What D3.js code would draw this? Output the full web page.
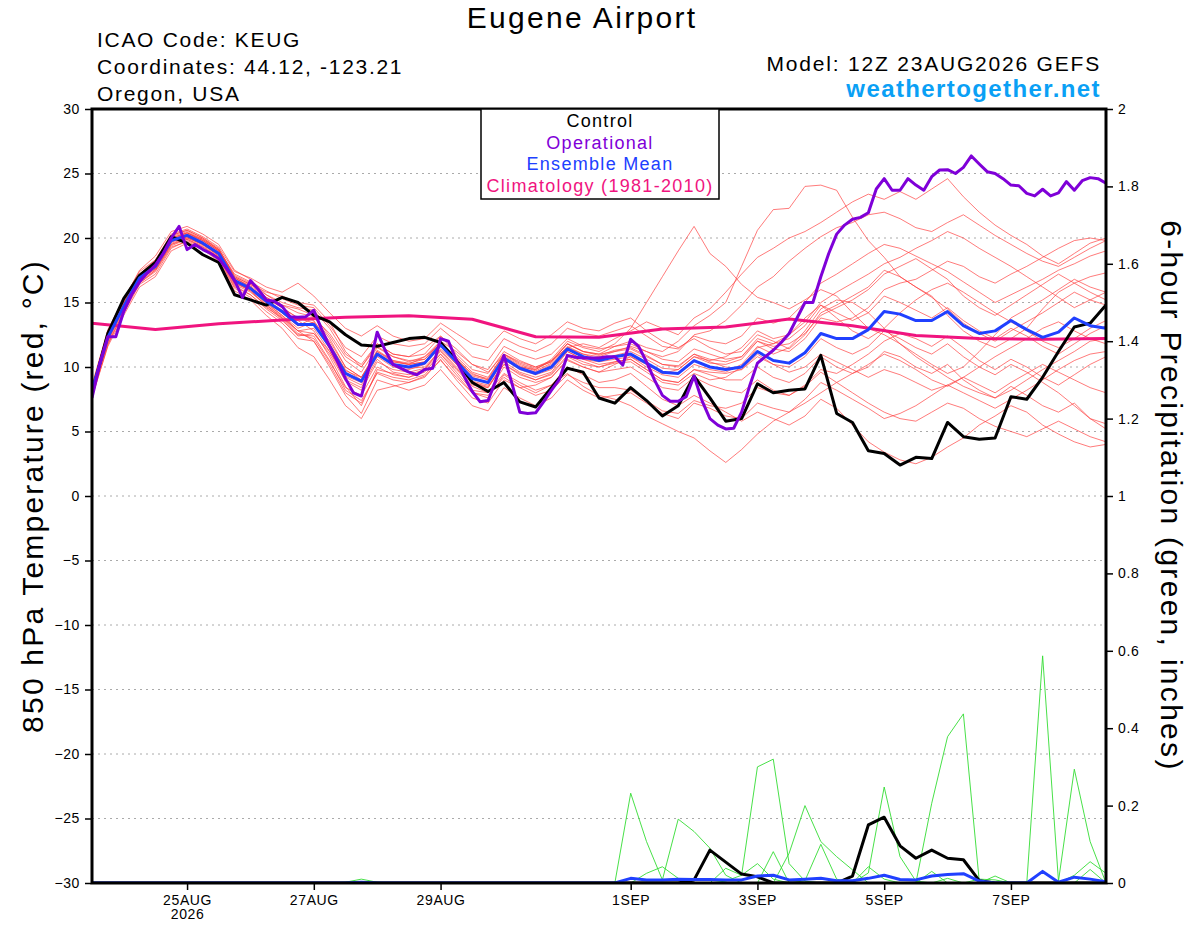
<!DOCTYPE html>
<html><head><meta charset="utf-8">
<script src="https://cdn.jsdelivr.net/npm/d3@7"></script>
<style>
body{margin:0;background:#fff;}
svg{display:block;font-family:"Liberation Sans",Arial,Helvetica,sans-serif;}
</style></head><body>
<svg id="chart" width="1200" height="927"></svg>
<script>
// ---------------- DATA ----------------
// x-axis tick positions (hours after 12Z 23AUG2026) and labels
const xTickHours  = [36, 84, 132, 204, 252, 300, 348];
const xTickLabels = ["25AUG", "27AUG", "29AUG", "1SEP", "3SEP", "5SEP", "7SEP"];
const tempTicks = [-30,-25,-20,-15,-10,-5,0,5,10,15,20,25,30];
const precipTicks = [0,0.2,0.4,0.6,0.8,1,1.2,1.4,1.6,1.8,2];
const precipTickLabels = ["0","0.2","0.4","0.6","0.8","1","1.2","1.4","1.6","1.8","2"];

// 6-hourly control (GEFS c00) 850 hPa temperature, degC
const controlTemp = [
 8.0,12.6,15.3,17.1,18.1,20.1,19.6,18.7,18.1,15.6,15.2,14.8,15.4,
 15.0,14.0,13.5,12.5,11.7,11.6,11.9,12.2,12.3,11.9,10.5,8.8,8.1,
 8.8,7.3,6.9,8.4,9.9,9.6,7.6,7.2,8.4,7.4,6.2,7.0,9.3,
 7.6,5.8,6.0,8.7,8.0,8.2,8.3,10.9,6.4,5.7,3.5,3.3,2.4,
 3.0,2.9,5.7,4.6,4.4,4.5,7.7,7.5,9.2,11.2,13.1,13.4,14.8];

// 6-hourly ensemble mean
const meanTemp = [
 8.2,12.3,14.7,16.9,17.8,19.8,20.2,19.6,18.8,16.7,16.1,15.1,14.3,
 13.3,13.3,11.6,9.5,8.9,11.0,10.2,10.0,10.3,11.7,10.4,9.1,8.8,
 10.7,9.9,9.5,10.0,11.4,10.8,10.5,10.8,11.0,10.3,9.6,9.5,10.5,
 10.0,9.8,10.0,11.2,10.5,10.3,11.1,12.6,12.2,12.2,12.9,14.3,14.1,
 13.6,13.6,14.3,13.2,12.6,12.8,13.6,12.9,12.3,12.7,13.8,13.2,13.0];

// 3-hourly operational GFS
const operTemp = [
 7.6,10.3,12.35,12.35,14.3,15.6,16.6,17.3,17.9,18.8,20.0,20.9,19.1,19.5,19.1,18.8,
 18.4,17.6,16.7,15.4,16.7,16.0,15.2,15.1,14.7,13.9,13.85,13.9,14.4,12.9,11.6,10.4,
 9.1,8.0,7.75,10.0,12.7,11.3,10.2,9.9,9.6,9.4,9.8,9.9,12.2,12.0,
 10.5,9.25,8.1,7.3,7.4,9.0,10.9,8.75,6.5,6.4,6.45,7.3,8.2,9.05,10.9,10.75,
 10.7,10.7,10.7,10.8,10.8,10.15,12.15,11.6,10.4,9.0,7.8,7.35,7.35,7.7,9.3,7.4,
 6.0,5.5,5.2,5.25,6.5,8.5,10.3,10.8,11.3,11.9,12.6,13.8,
 15.0,15.0,17.0,18.8,20.3,21.0,21.45,21.6,21.96,23.8,24.6,23.7,23.7,24.6,24.1,23.7,
 24.75,25.27,25.3,25.0,25.48,26.36,25.74,25.14,25.0,24.6,24.1,24.05,23.46,23.26,23.78,23.26,
 23.5,24.37,23.7,24.44,24.68,24.6,24.24];

// daily climatology (1981-2010)
const climTemp = [13.4,12.9,13.35,13.65,13.85,13.98,13.7,12.35,12.3,12.95,13.1,13.72,13.2,12.45,12.2,12.15,12.2];

// 6-hourly ensemble members
const member01 = [8.0,12.0,14.9,17.2,18.3,20.2,20.6,20.0,19.2,17.0,16.4,15.8,15.5,
 15.0,14.8,13.5,11.2,10.0,11.8,11.0,10.8,11.5,12.4,11.0,9.8,9.5,
 11.2,10.5,10.0,10.4,11.8,11.2,11.0,11.6,12.0,11.5,11.2,12.0,13.2,
 14.0,15.0,17.8,20.6,22.2,22.3,24.0,24.1,23.7,21.6,19.8,18.5,17.0,
 16.2,15.5,14.0,12.8,12.0,11.5,12.2,13.0,14.5,15.8,16.5,17.0,17.3];
const member02 = [8.5,12.8,15.2,17.5,18.6,20.5,20.9,20.3,19.5,17.5,16.8,15.6,14.8,
 14.5,14.0,12.4,10.5,9.6,11.5,10.8,10.4,10.8,12.0,11.2,10.2,9.6,
 11.0,10.2,9.8,10.6,12.0,11.5,11.2,11.8,13.0,15.0,17.0,19.0,20.9,
 18.8,17.8,16.4,15.4,15.0,14.5,15.2,16.0,15.5,14.2,13.0,12.5,11.8,
 11.0,10.2,9.5,10.0,11.2,12.5,13.8,14.5,15.2,16.0,16.8,16.2,15.8];
const member03 = [8.3,12.5,14.5,16.5,17.5,19.5,20.0,19.5,18.6,16.5,16.0,15.0,14.0,
 13.0,13.5,12.0,10.0,9.2,11.2,10.5,10.2,10.8,11.8,10.5,9.5,9.0,
 10.5,10.0,9.8,10.5,11.5,11.8,11.5,12.2,12.8,13.5,13.0,12.5,13.8,
 14.5,15.8,17.2,18.5,19.2,20.0,20.5,21.2,22.0,22.8,23.4,23.0,23.6,
 23.0,23.8,24.6,23.2,22.0,21.0,20.2,19.5,18.6,18.0,18.8,19.6,20.0];
const member04 = [7.8,11.8,14.2,16.4,17.2,19.2,19.8,19.3,18.4,16.2,15.6,14.5,13.6,
 12.5,12.4,10.5,8.2,7.4,9.5,9.0,8.8,9.3,10.5,9.2,8.0,7.6,
 9.4,8.6,8.0,8.6,10.0,9.4,8.8,9.0,9.5,8.5,7.5,7.0,7.8,
 7.2,6.5,5.8,6.5,6.0,5.5,6.2,7.5,6.8,5.5,4.2,3.4,2.8,
 2.5,3.0,3.8,4.5,5.5,6.2,7.0,6.5,5.5,4.8,4.2,3.8,4.0];
const member05 = [8.1,12.2,14.8,17.0,18.0,20.0,20.4,19.8,19.0,16.9,16.2,15.2,14.4,
 13.6,12.8,10.8,8.5,7.0,9.8,9.5,9.2,9.8,11.0,9.8,8.5,8.0,
 9.5,8.8,8.2,8.6,9.5,8.5,7.8,7.5,7.0,6.2,5.6,5.0,4.5,
 3.5,2.6,3.6,4.8,5.8,6.5,7.2,8.0,8.8,9.5,10.2,11.0,10.5,
 9.8,9.0,8.5,9.2,10.0,10.8,11.5,12.2,13.0,13.5,12.8,12.2,11.8];
const member06 = [8.4,12.6,15.0,17.1,18.0,20.1,20.5,19.9,19.1,17.1,16.5,15.4,14.6,
 13.8,13.6,11.8,9.8,9.0,11.2,10.4,10.2,10.4,11.9,10.6,9.3,9.0,
 10.9,10.1,9.7,10.3,11.6,11.0,10.6,10.9,11.2,10.6,9.9,9.8,10.8,
 10.3,10.2,10.6,12.0,11.4,11.2,12.2,13.8,13.5,13.8,14.6,16.0,16.5,
 16.8,17.5,18.2,17.8,17.0,16.5,17.2,17.8,18.5,19.2,19.8,20.0,19.8];
const member07 = [7.9,11.9,14.4,16.6,17.5,19.4,19.9,19.3,18.5,16.4,15.8,14.8,13.9,
 12.8,12.6,11.0,8.9,8.2,10.4,9.8,9.6,9.9,11.2,9.9,8.6,8.4,
 10.2,9.5,9.0,9.5,10.9,10.4,10.0,10.4,10.6,9.8,9.0,8.8,9.8,
 9.4,9.0,9.0,10.0,9.2,8.8,9.5,10.8,10.0,9.5,10.0,11.2,10.8,
 10.0,9.5,10.2,9.0,8.2,7.6,8.5,7.8,7.0,6.5,7.2,6.0,5.6];
const member08 = [8.6,12.9,15.3,17.4,18.3,20.3,20.7,20.1,19.3,17.4,16.9,16.2,15.8,
 16.5,15.5,14.2,13.0,12.4,13.2,12.4,12.0,12.2,13.4,12.6,11.8,11.5,
 12.8,12.2,11.8,12.5,13.5,13.0,12.8,13.4,13.8,12.8,12.0,11.5,12.2,
 11.5,11.0,11.2,12.5,12.0,11.4,12.5,14.2,14.8,15.5,16.2,17.5,17.0,
 16.2,15.4,14.5,13.4,12.6,12.0,12.8,13.5,14.2,15.0,15.8,15.2,14.8];
const member09 = [7.7,11.6,14.0,16.2,17.0,19.0,19.6,19.1,18.2,15.9,15.2,14.0,13.0,
 11.5,10.8,9.0,7.0,6.0,8.2,8.5,8.8,9.2,10.6,9.0,7.6,7.2,
 9.0,8.4,8.6,9.2,10.5,10.0,9.6,10.2,10.8,10.2,9.5,9.8,10.8,
 10.5,10.8,11.5,12.8,12.2,12.5,13.5,15.0,15.8,16.5,17.2,18.0,18.5,
 19.2,19.8,20.5,20.0,19.2,18.5,17.8,17.0,16.2,15.4,14.6,15.2,15.8];
const member10 = [8.2,12.4,14.6,16.8,17.9,19.9,20.3,19.7,18.9,16.8,16.0,14.9,14.0,
 12.8,13.0,11.2,9.0,8.4,10.6,9.6,9.4,9.8,11.4,10.2,8.8,8.4,
 10.4,9.6,9.2,9.6,11.2,10.6,10.4,10.6,10.8,10.0,9.4,9.2,10.2,
 9.8,9.6,10.2,11.6,11.0,11.5,12.8,14.5,15.2,15.0,14.2,13.0,11.8,
 10.8,10.0,9.2,8.5,8.0,7.6,8.2,9.0,9.8,10.5,11.2,12.0,12.2];
const member11 = [8.0,12.1,14.7,17.0,17.9,19.8,20.1,19.5,18.7,16.6,16.0,15.0,14.2,
 13.2,13.8,12.6,10.8,10.0,11.6,10.8,10.5,10.6,11.8,10.8,9.6,9.2,
 11.0,10.4,10.0,10.5,11.8,11.2,11.0,11.2,11.4,10.8,10.2,10.0,11.0,
 10.4,10.0,9.8,10.8,10.2,9.6,10.0,11.0,10.4,9.8,9.2,9.8,9.4,
 8.8,8.2,8.6,8.0,7.4,6.8,7.5,8.2,9.0,9.8,10.5,11.0,11.2];
const member12 = [8.3,12.3,14.8,16.9,17.7,19.7,20.1,19.6,18.8,16.7,16.2,15.3,14.6,
 13.8,13.4,11.4,9.2,8.6,10.8,10.0,9.8,10.2,11.6,10.4,9.2,8.8,
 10.8,10.0,9.6,10.2,11.5,11.0,10.8,11.2,11.6,11.2,10.8,11.2,12.5,
 12.8,13.6,14.8,16.2,17.0,18.2,19.2,20.1,20.8,21.2,21.8,22.0,21.5,
 20.8,20.5,21.2,21.8,21.0,20.2,19.5,18.8,18.2,17.8,18.5,19.2,19.8];
const member13 = [8.1,12.2,14.6,16.8,17.6,19.6,20.0,19.5,18.6,16.5,15.9,14.8,13.8,
 12.6,12.2,10.4,8.4,7.8,10.0,9.4,9.2,9.6,11.0,9.6,8.2,8.0,
 10.0,9.2,8.8,9.2,10.6,10.0,9.6,9.8,10.0,9.2,8.4,8.2,9.2,
 8.6,8.2,8.0,9.0,8.2,7.8,8.5,9.6,8.8,8.0,7.2,6.5,6.0,
 5.8,6.5,7.2,6.8,6.0,5.4,5.0,4.6,5.2,5.8,5.2,4.6,4.2];
const member14 = [8.4,12.5,14.9,17.0,17.8,19.8,20.3,19.8,19.0,16.9,16.3,15.4,14.8,
 14.2,13.9,12.2,10.0,9.2,11.0,10.2,9.9,10.0,11.3,10.0,8.8,8.5,
 10.2,9.4,9.0,9.4,10.8,10.2,10.0,10.3,10.4,9.6,8.8,8.6,9.5,
 9.0,9.2,10.0,11.5,11.8,12.5,13.8,14.8,13.8,12.8,12.2,13.0,14.2,
 15.2,16.0,16.5,15.8,15.0,14.2,13.5,12.8,12.0,11.5,12.2,13.0,13.6];
const member15 = [7.6,11.7,14.3,16.5,17.4,19.3,19.7,19.2,18.3,16.1,15.4,14.3,13.4,
 12.2,12.0,10.2,8.0,7.2,9.6,9.2,9.0,9.4,10.8,9.4,8.0,7.8,
 9.2,8.4,7.8,8.2,9.4,8.8,8.4,8.4,8.2,7.4,6.6,6.4,7.4,
 7.0,6.8,7.2,8.4,8.0,7.8,8.6,9.8,9.5,10.2,11.0,12.0,12.6,
 12.2,11.6,12.4,11.5,10.5,9.8,10.6,10.0,9.2,8.6,9.4,10.2,10.8];
const member16 = [8.5,12.7,15.0,17.2,18.1,20.0,20.4,19.9,19.1,17.0,16.4,15.6,15.0,
 14.6,14.4,13.0,11.0,10.2,11.8,11.0,10.8,11.0,12.4,11.4,10.2,9.8,
 11.6,11.0,10.6,11.0,12.2,11.6,11.4,11.6,11.8,11.2,10.6,10.4,11.4,
 11.0,10.6,10.8,12.0,11.6,11.8,12.6,14.0,14.6,15.2,16.0,17.2,17.8,
 18.4,17.6,16.8,15.5,14.6,14.0,14.8,15.6,16.4,17.2,16.5,15.8,15.2];
const member17 = [7.9,12.0,14.5,16.7,17.6,19.5,19.9,19.4,18.5,16.3,15.6,14.6,13.8,
 12.8,12.0,10.0,7.8,6.4,9.0,8.6,8.2,8.6,9.8,8.4,7.0,6.6,
 8.4,7.6,7.0,7.6,9.0,8.2,7.6,7.8,8.0,7.2,6.4,6.0,7.2,
 6.8,6.2,6.0,7.2,6.8,6.5,7.5,8.8,8.2,7.5,6.8,6.0,6.4,
 7.0,7.8,8.6,9.2,8.6,8.0,8.8,9.5,10.2,9.6,9.0,8.4,8.0];
const member18 = [8.2,12.4,14.8,17.1,18.1,20.2,20.6,20.0,19.1,17.2,16.6,15.9,15.3,
 14.8,14.6,13.2,11.5,10.8,12.4,11.8,11.6,11.8,13.0,12.0,10.8,10.5,
 12.2,11.6,11.2,11.8,13.0,12.6,12.4,12.8,13.2,12.4,11.6,11.4,12.4,
 12.0,11.8,12.4,13.8,13.4,13.8,15.0,16.5,17.2,18.0,18.8,19.5,19.2,
 18.6,18.0,17.4,16.6,15.8,15.0,15.6,16.2,16.8,17.5,18.0,18.6,19.0];
const member19 = [8.0,12.2,14.6,16.8,17.7,19.7,20.1,19.5,18.7,16.6,15.9,14.7,13.7,
 12.4,12.6,11.2,9.3,8.8,11.0,10.4,10.2,10.4,11.6,10.2,8.9,8.6,
 10.6,9.8,9.4,9.8,11.2,10.6,10.2,10.4,10.6,9.8,9.0,8.8,9.8,
 9.6,9.5,9.8,11.0,10.2,10.0,10.8,12.2,11.5,11.0,11.6,12.8,12.2,
 11.5,11.0,11.8,10.8,10.0,9.4,10.2,9.6,8.8,8.0,7.0,6.0,5.2];
const member20 = [8.3,12.5,14.9,17.0,17.9,19.9,20.4,19.8,19.0,16.9,16.2,15.1,14.2,
 13.2,13.4,11.8,9.7,9.2,11.3,10.5,10.3,10.6,12.0,10.7,9.4,9.1,
 11.0,10.3,9.9,10.4,11.8,11.2,10.9,11.3,11.5,10.9,10.2,10.1,11.0,
 10.6,10.4,10.8,12.2,11.8,12.2,13.2,14.8,14.2,13.6,14.2,15.5,15.0,
 14.4,13.8,14.6,13.6,12.8,12.2,13.0,12.4,11.6,11.0,11.8,12.6,13.2];
const memberTemps = [member01,member02,member03,member04,member05,member06,member07,member08,member09,member10,
  member11,member12,member13,member14,member15,member16,member17,member18,member19,member20];

// 6-hourly precipitation, inches
const controlPrecip = [
 0,0,0,0,0,0,0,0,0,0,0,0,0,
 0,0,0,0,0,0,0,0,0,0,0,0,0,
 0,0,0,0,0,0,0,0,0,0,0,0,0.008,
 0.085,0.054,0.023,0.016,0,0,0,0,0,0.018,0.15,0.17,0.096,
 0.064,0.085,0.064,0.06,0.006,0,0,0,0,0,0,0,0];
const meanPrecip = [
 0,0,0,0,0,0,0,0,0,0,0,0,0,
 0,0,0,0,0.002,0,0,0,0,0,0,0,0,
 0,0,0,0,0,0,0,0,0.012,0.008,0.008,0.01,0.009,
 0.009,0.008,0.008,0.018,0.02,0.008,0.01,0.012,0.006,0.006,0.012,0.02,0.009,
 0.008,0.018,0.022,0.024,0.005,0,0,0,0.03,0.002,0.015,0.01,0.003];
const precipA = [
 0,0,0,0,0,0,0,0,0,0,0,0,0,
 0,0,0,0,0,0,0,0,0,0,0,0,0,
 0,0,0,0,0,0,0,0,0.232,0.107,0.008,0.165,0.133,
 0.09,0.02,0,0,0,0,0,0,0,0,0,0,0,
 0,0.206,0.378,0.437,0.005,0,0,0,0,0,0,0,0];
const precipB = [
 0,0,0,0,0,0,0,0,0,0,0,0,0,
 0,0,0,0,0,0,0,0,0,0,0,0,0,
 0,0,0,0,0,0,0,0,0,0,0,0,0,
 0,0.005,0.02,0.30,0.32,0.05,0.005,0,0,0,0,0,0,
 0,0,0,0,0,0,0,0,0.587,0.005,0.294,0.107,0];
const precipC = [
 0,0,0,0,0,0,0,0,0,0,0,0,0,
 0,0,0,0,0,0,0,0,0,0,0,0,0,
 0,0,0,0,0,0,0,0,0,0,0,0,0,
 0,0,0,0,0,0.077,0.20,0.107,0.068,0.034,0,0,0,
 0,0,0,0,0,0,0,0,0,0,0.02,0.055,0.025];
const precipD = [
 0,0,0,0,0,0,0,0,0,0,0,0,0,
 0,0,0,0,0,0,0,0,0,0,0,0,0,
 0,0,0,0,0,0,0,0,0,0,0,0,0,
 0,0,0,0,0.081,0,0.006,0.10,0.01,0,0.026,0.248,0.068,
 0.005,0,0,0,0,0,0,0,0,0,0,0,0];
const precipE = [
 0,0,0,0,0,0,0,0,0,0,0,0,0,
 0,0,0,0,0,0,0,0,0,0,0,0,0,
 0,0,0,0,0,0,0,0,0,0.025,0.042,0.012,0,
 0,0.038,0.02,0.05,0.01,0,0,0,0,0,0,0,0,
 0,0,0.012,0,0,0.018,0,0,0,0,0,0.035,0];
const precipF = [
 0,0,0,0,0,0,0,0,0,0,0,0,0,
 0,0,0,0.002,0.01,0.002,0,0,0,0,0,0,0,
 0,0,0,0,0,0,0,0,0,0,0,0,0,
 0,0,0,0,0,0,0,0,0,0,0.042,0.01,0,
 0,0.03,0,0,0.01,0.008,0,0,0,0,0,0,0];
const memberPrecips = [precipA, precipB, precipC, precipD, precipE, precipF];

// ---------------- CHART ----------------
const svg = d3.select("#chart");
const L = 92, R = 1106, T = 109, B = 883;
const HOUR = 3600 * 1000;
const t0 = Date.UTC(2026, 7, 23, 12);
const x = d3.scaleUtc().domain([new Date(t0), new Date(t0 + 384 * HOUR)]).range([L, R]);
const yT = d3.scaleLinear().domain([-30, 30]).range([B, T]);
const yP = d3.scaleLinear().domain([0, 2]).range([B, T]);
const FONT = '"Liberation Sans", Arial, Helvetica, sans-serif';

svg.append("rect").attr("width", 1200).attr("height", 927).attr("fill", "#fff");

// Gridlines
svg.append("g").selectAll("line").data(tempTicks.filter(v => v > -30 && v < 30)).join("line")
  .attr("x1", L).attr("x2", R).attr("y1", d => yT(d)).attr("y2", d => yT(d))
  .attr("stroke", "#aaaaaa").attr("stroke-width", 1).attr("stroke-dasharray", "2,4");

svg.append("defs").append("clipPath").attr("id", "plotclip")
  .append("rect").attr("x", L).attr("y", T).attr("width", R - L).attr("height", B - T);
const plot = svg.append("g").attr("clip-path", "url(#plotclip)");

const lineStep = (scale, stepH) => d3.line()
  .x((d, i) => x(new Date(t0 + i * stepH * HOUR)))
  .y(d => scale(d));

// ensemble members
plot.append("g").selectAll("path").data(memberTemps).join("path")
  .attr("d", lineStep(yT, 6)).attr("fill", "none")
  .attr("stroke", "#ff3b3b").attr("stroke-opacity", 0.85).attr("stroke-width", 0.8);
// precip members
plot.append("g").selectAll("path").data(memberPrecips).join("path")
  .attr("d", lineStep(yP, 6)).attr("fill", "none")
  .attr("stroke", "#33dd33").attr("stroke-width", 0.9);
// climatology
plot.append("path").attr("d", lineStep(yT, 24)(climTemp)).attr("fill", "none")
  .attr("stroke", "#f0147f").attr("stroke-width", 3).attr("stroke-linejoin", "round");
// control
plot.append("path").attr("d", lineStep(yT, 6)(controlTemp)).attr("fill", "none")
  .attr("stroke", "#000").attr("stroke-width", 3).attr("stroke-linejoin", "round");
plot.append("path").attr("d", lineStep(yP, 6)(controlPrecip)).attr("fill", "none")
  .attr("stroke", "#000").attr("stroke-width", 3).attr("stroke-linejoin", "round");
// ensemble mean
plot.append("path").attr("d", lineStep(yT, 6)(meanTemp)).attr("fill", "none")
  .attr("stroke", "#2040ff").attr("stroke-width", 3).attr("stroke-linejoin", "round");
plot.append("path").attr("d", lineStep(yP, 6)(meanPrecip)).attr("fill", "none")
  .attr("stroke", "#2040ff").attr("stroke-width", 3).attr("stroke-linejoin", "round");
// operational
plot.append("path").attr("d", lineStep(yT, 3)(operTemp)).attr("fill", "none")
  .attr("stroke", "#7f00d8").attr("stroke-width", 3).attr("stroke-linejoin", "round");

// Border
svg.append("rect").attr("x", L).attr("y", T).attr("width", R - L).attr("height", B - T)
  .attr("fill", "none").attr("stroke", "#000").attr("stroke-width", 3);

// Axes
const styleAxis = g => {
  g.select(".domain").remove();
  g.selectAll(".tick line").attr("stroke", "#000").attr("stroke-width", 1.5);
  g.selectAll(".tick text").attr("font-family", FONT).attr("font-size", 14)
    .attr("letter-spacing", 0.6).attr("fill", "#000");
};
svg.append("g").attr("transform", `translate(${L - 1},0)`)
  .call(d3.axisLeft(yT).tickValues(tempTicks).tickSize(6).tickPadding(5).tickFormat(d3.format("d")))
  .call(styleAxis);
svg.append("g").attr("transform", `translate(${R + 1},0)`)
  .call(d3.axisRight(yP).tickValues(precipTicks).tickSize(6).tickPadding(5)
    .tickFormat((d, i) => precipTickLabels[i]))
  .call(styleAxis);
const xTickDates = xTickHours.map(h => new Date(t0 + h * HOUR));
const xAxisG = svg.append("g").attr("transform", `translate(0,${B + 1})`)
  .call(d3.axisBottom(x).tickValues(xTickDates).tickSize(6).tickPadding(5)
    .tickFormat((d, i) => xTickLabels[i]))
  .call(styleAxis);
xAxisG.selectAll(".tick").filter((d, i) => i === 0).append("text")
  .attr("y", 35).attr("text-anchor", "middle").attr("font-family", FONT)
  .attr("font-size", 14).attr("letter-spacing", 0.6).attr("fill", "#000").text("2026");

// Axis titles
svg.append("text").attr("transform", `translate(43,${(T + B) / 2}) rotate(-90)`)
  .attr("text-anchor", "middle").attr("font-family", FONT).attr("font-size", 30)
  .attr("letter-spacing", 2.2)
  .text("850 hPa Temperature (red, °C)");
svg.append("text").attr("transform", `translate(1161,${(T + B) / 2}) rotate(90)`)
  .attr("text-anchor", "middle").attr("font-family", FONT).attr("font-size", 30)
  .attr("letter-spacing", 2.3)
  .text("6-hour Precipitation (green, inches)");

// Titles
svg.append("text").attr("x", 582).attr("y", 28).attr("text-anchor", "middle")
  .attr("font-family", FONT).attr("font-size", 30).attr("letter-spacing", 2.3).text("Eugene Airport");
const hdr = ["ICAO Code: KEUG", "Coordinates: 44.12, -123.21", "Oregon, USA"];
svg.append("g").selectAll("text").data(hdr).join("text")
  .attr("x", 97).attr("y", (d, i) => 47 + i * 27).attr("font-family", FONT).attr("font-size", 21)
  .attr("letter-spacing", 1.7).text(d => d);
svg.append("text").attr("x", 1101).attr("y", 71).attr("text-anchor", "end")
  .attr("font-family", FONT).attr("font-size", 21).attr("letter-spacing", 1.8)
  .text("Model: 12Z 23AUG2026 GEFS");
svg.append("text").attr("x", 1101).attr("y", 97).attr("text-anchor", "end")
  .attr("font-family", FONT).attr("font-size", 24).attr("font-weight", "bold")
  .attr("letter-spacing", 1.4).attr("fill", "#0aa0f5").text("weathertogether.net");

// Legend
svg.append("rect").attr("x", 481).attr("y", T).attr("width", 238).attr("height", 90)
  .attr("fill", "#fff").attr("stroke", "#000").attr("stroke-width", 1.5);
const legendItems = [
  {t: "Control", c: "#000"},
  {t: "Operational", c: "#7f00d8"},
  {t: "Ensemble Mean", c: "#2040ff"},
  {t: "Climatology (1981-2010)", c: "#f0147f"}];
svg.append("g").selectAll("text").data(legendItems).join("text")
  .attr("x", 600).attr("y", (d, i) => 127 + i * 21.5).attr("text-anchor", "middle")
  .attr("font-family", FONT).attr("font-size", 18).attr("letter-spacing", 1.3)
  .attr("fill", d => d.c).text(d => d.t);
</script>
</body></html>
